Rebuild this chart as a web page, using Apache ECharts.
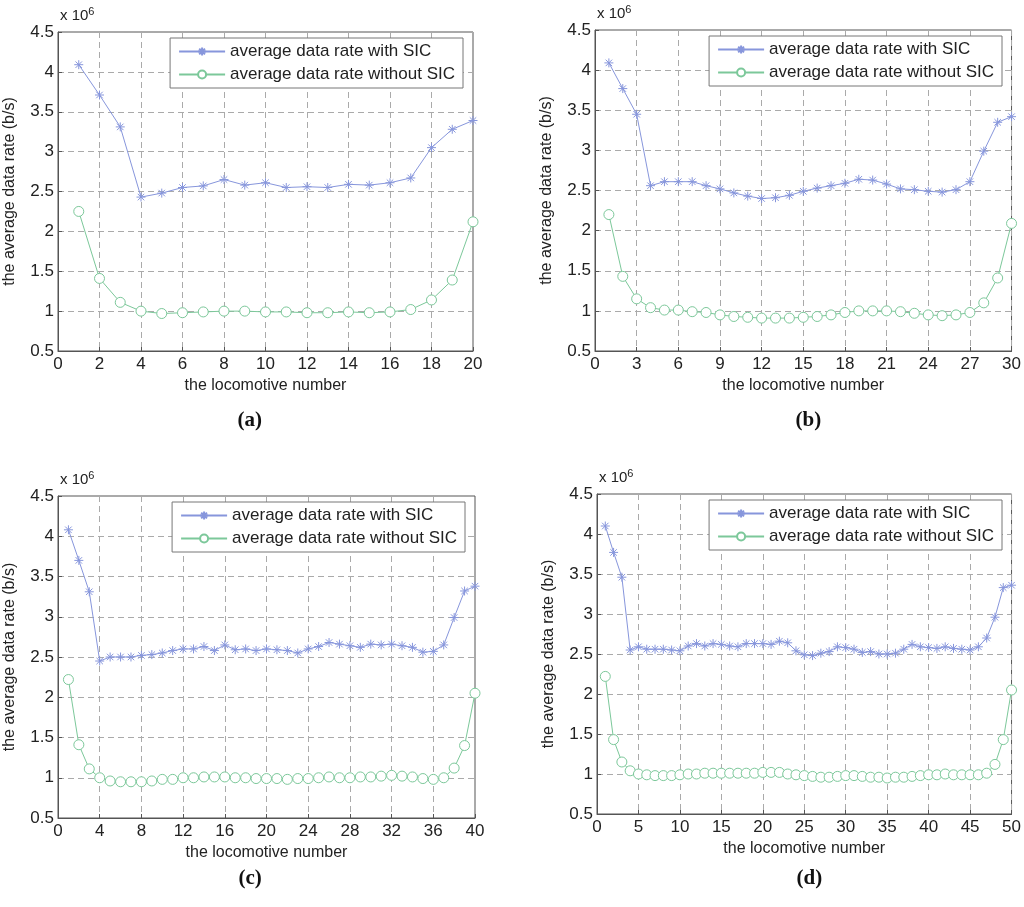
<!DOCTYPE html>
<html><head><meta charset="utf-8">
<script src="https://cdn.jsdelivr.net/npm/echarts@6/dist/echarts.min.js"></script>
<style>html,body{margin:0;padding:0;background:#fff}#c{width:1024px;height:907px}</style>
</head><body><div id="c"></div>
<script>
const withA=[4.09,3.71,3.31,2.43,2.48,2.55,2.57,2.65,2.58,2.61,2.55,2.56,2.55,2.59,2.58,2.61,2.67,3.05,3.28,3.39];
const woA=[2.25,1.41,1.11,1.00,0.97,0.98,0.99,1.00,1.00,0.99,0.99,0.98,0.98,0.99,0.98,0.99,1.02,1.14,1.39,2.12];
const withB=[4.09,3.77,3.45,2.56,2.61,2.61,2.61,2.56,2.52,2.47,2.43,2.40,2.41,2.44,2.49,2.53,2.56,2.59,2.64,2.63,2.58,2.52,2.51,2.49,2.48,2.51,2.61,2.99,3.35,3.42];
const woB=[2.20,1.43,1.15,1.04,1.01,1.01,0.99,0.98,0.95,0.93,0.92,0.91,0.91,0.91,0.92,0.93,0.95,0.98,1.00,1.00,1.00,0.99,0.97,0.95,0.94,0.95,0.98,1.10,1.41,2.09];
const withC=[4.08,3.70,3.31,2.45,2.50,2.50,2.50,2.52,2.53,2.55,2.58,2.60,2.60,2.63,2.58,2.65,2.59,2.60,2.58,2.60,2.59,2.58,2.55,2.60,2.63,2.68,2.66,2.64,2.62,2.66,2.65,2.66,2.64,2.62,2.56,2.57,2.65,2.99,3.32,3.38];
const woC=[2.22,1.41,1.11,1.00,0.96,0.95,0.95,0.95,0.96,0.98,0.98,1.00,1.00,1.01,1.01,1.01,1.00,1.00,0.99,0.99,0.99,0.98,0.99,0.99,1.00,1.01,1.00,1.00,1.01,1.01,1.02,1.03,1.02,1.01,0.99,0.98,1.00,1.12,1.40,2.05];
const withD=[4.10,3.77,3.46,2.55,2.59,2.56,2.56,2.56,2.55,2.54,2.60,2.63,2.60,2.63,2.62,2.60,2.59,2.63,2.63,2.63,2.62,2.66,2.64,2.54,2.49,2.48,2.51,2.53,2.59,2.58,2.56,2.52,2.53,2.50,2.50,2.51,2.56,2.62,2.59,2.58,2.57,2.59,2.57,2.56,2.55,2.59,2.70,2.96,3.33,3.36];
const woD=[2.22,1.43,1.15,1.04,1.00,0.99,0.98,0.98,0.98,0.99,1.00,1.00,1.01,1.01,1.01,1.01,1.01,1.01,1.01,1.02,1.02,1.02,1.00,0.99,0.98,0.97,0.96,0.96,0.97,0.98,0.98,0.97,0.96,0.96,0.95,0.96,0.96,0.97,0.98,0.99,0.99,1.00,0.99,0.99,0.99,0.99,1.01,1.12,1.43,2.05];
const xMax=[20,30,40,50];
const xStep=[2,3,4,5];
const panelLabels=['a','b','c','d'];
const nameWith='average data rate with SIC', nameWo='average data rate without SIC';

const panels=[[withA,woA],[withB,woB],[withC,woC],[withD,woD]];
const boxes=[{l:58,t:32,r:473,b:351},{l:595,t:30,r:1012,b:351},{l:58,t:496,r:475,b:818},{l:597,t:494,r:1012,b:814}];
const blue='#8796dc', green='#7cc89a';
const star='path://M0,-5L0,5M-5,0L5,0M-3.6,-3.6L3.6,3.6M-3.6,3.6L3.6,-3.6';
const font='Liberation Sans';
const grids=[],xA=[],yA=[],series=[],legends=[],graphics=[];
boxes.forEach((b,i)=>{
  grids.push({left:b.l,top:b.t,width:b.r-b.l,height:b.b-b.t,show:true,borderColor:'#555',borderWidth:1});
  xA.push({gridIndex:i,type:'value',min:0,max:xMax[i],interval:xStep[i],
    name:'the locomotive number',nameLocation:'middle',nameGap:27,nameTextStyle:{fontSize:16,color:'#222',fontFamily:font},
    axisLine:{lineStyle:{color:'#555'}},axisTick:{inside:true,length:4,lineStyle:{color:'#555'}},
    axisLabel:{fontSize:17,color:'#222',fontFamily:font,margin:5},
    splitLine:{show:true,lineStyle:{type:[6,4],color:'#aaa'}}});
  yA.push({gridIndex:i,type:'value',min:0.5,max:4.5,interval:0.5,
    name:'the average data rate (b/s)',nameLocation:'middle',nameGap:40,nameTextStyle:{fontSize:16,color:'#222',fontFamily:font},
    axisLine:{lineStyle:{color:'#555'}},axisTick:{inside:true,length:4,lineStyle:{color:'#555'}},
    axisLabel:{fontSize:17,color:'#222',fontFamily:font,margin:4,formatter:v=>String(+v.toFixed(1))},
    splitLine:{show:true,lineStyle:{type:[6,4],color:'#aaa'}}});
  const [w,o]=panels[i];
  series.push({name:nameWith,type:'line',xAxisIndex:i,yAxisIndex:i,data:w.map((v,k)=>[k+1,v]),
    symbol:star,symbolSize:9,lineStyle:{color:blue,width:1},itemStyle:{color:'none',borderColor:blue,borderWidth:1},color:blue});
  series.push({name:nameWo,type:'line',xAxisIndex:i,yAxisIndex:i,data:o.map((v,k)=>[k+1,v]),
    symbol:'circle',symbolSize:10,lineStyle:{color:green,width:1},itemStyle:{color:'#fff',borderColor:green,borderWidth:1},color:green});
  legends.push({data:[nameWith,nameWo],orient:'vertical',right:1024-b.r+10,top:b.t+6,
    backgroundColor:'#fff',borderColor:'#777',borderWidth:1,padding:[5,8,5,8],itemGap:6,itemWidth:46,itemHeight:10,
    textStyle:{fontSize:17,color:'#222',fontFamily:font},selectedMode:false});
  graphics.push({type:'text',left:b.l+2,top:b.t-26,style:{text:'x 10{s|6}',rich:{s:{fontSize:11,verticalAlign:'top',padding:[0,0,8,0]}},fontSize:15,fill:'#222',fontFamily:font}});
  graphics.push({type:'text',left:(b.l+b.r)/2-18+ (i%2?10:-10),top:(i<2?410:868),style:{text:'('+panelLabels[i]+')',fontSize:21,fontWeight:'bold',fill:'#111',fontFamily:'Liberation Serif'}});
});
const chart=echarts.init(document.getElementById('c'));
chart.setOption({animation:false,backgroundColor:'#fff',grid:grids,xAxis:xA,yAxis:yA,series,legend:legends,graphic:graphics});
</script></body></html>
